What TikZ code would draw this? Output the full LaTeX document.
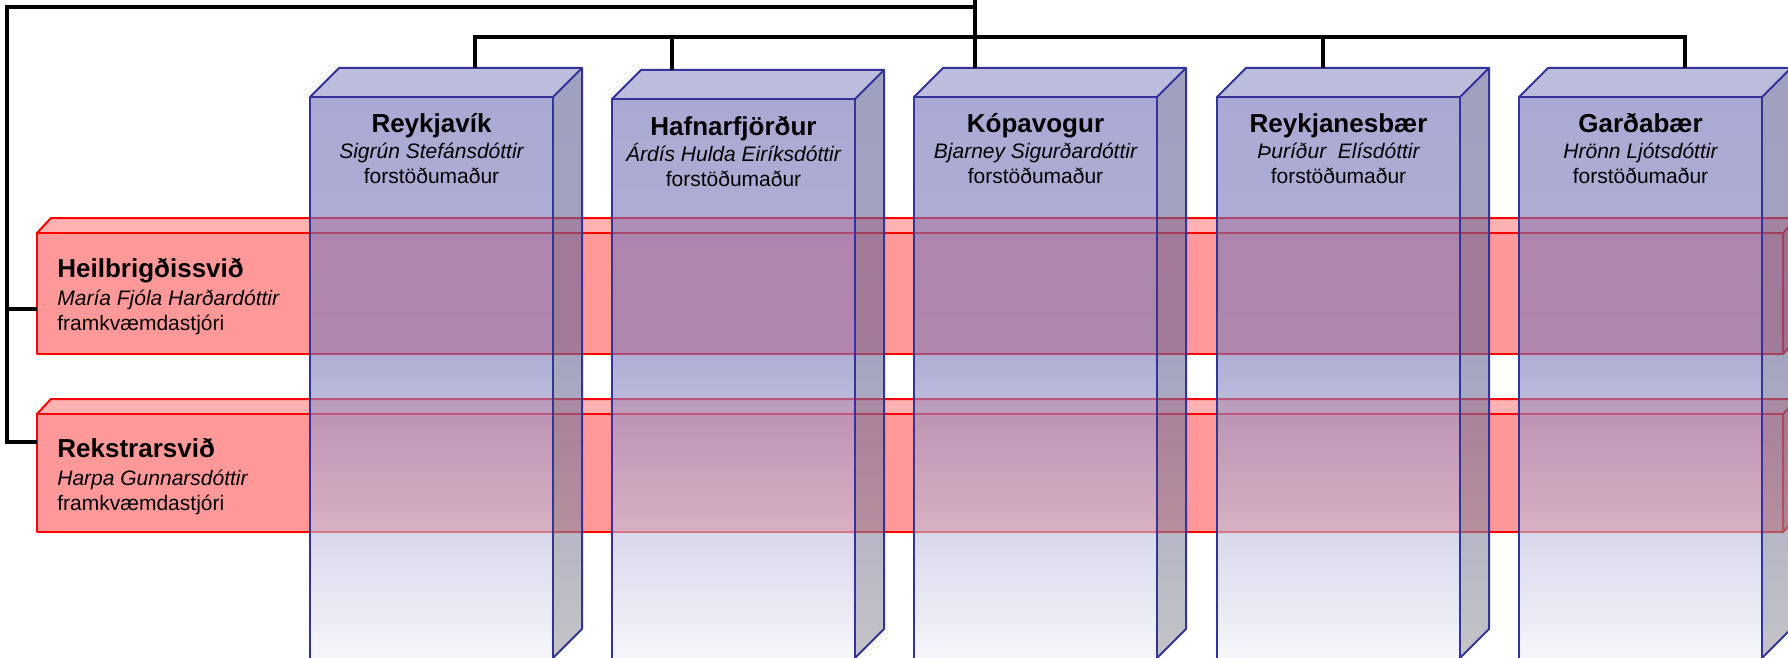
\documentclass[tikz,border=0pt]{standalone}
\usepackage{fontspec}
\setmainfont{Liberation Sans}
\usepackage{tikz}
\definecolor{unitline}{RGB}{51,51,153}
\definecolor{unittop}{RGB}{145,145,198}
\definecolor{barfront}{RGB}{255,153,153}
\definecolor{bartop}{RGB}{255,178,178}
\definecolor{barside}{RGB}{235,135,135}
\pgfdeclareverticalshading{unitfront}{100bp}{rgb(0bp)=(0.94,0.94,0.973); rgb(25bp)=(0.94,0.94,0.973);
    rgb(52bp)=(0.49,0.49,0.733); rgb(75bp)=(0.451,0.451,0.722); rgb(100bp)=(0.451,0.451,0.722)}
\pgfdeclareverticalshading{unitside}{100bp}{rgb(0bp)=(0.616,0.616,0.647); rgb(25bp)=(0.616,0.616,0.647);
    rgb(52bp)=(0.41,0.41,0.6); rgb(75bp)=(0.388,0.388,0.592); rgb(100bp)=(0.388,0.388,0.592)}
\tikzset{
    every node/.style={font=\fontsize{10.5}{12.5}\selectfont},
    link/.style={line width=2pt, black},
    barface/.style={draw=red, line width=1pt, line join=round},
    unitface/.style={fill opacity=0.61},
    unitedge/.style={draw=unitline, line width=1pt, line join=round},
    unitlabel/.style={align=center, inner sep=0pt, anchor=north},
    barlabel/.style={align=left, inner sep=0pt, anchor=north west}
}
% one transparent column: left x and top y of its front face
\newcommand{\unitcol}[2]{%
  \shade[unitface, shading=unitfront] (#1,#2) rectangle (#1+243,658);
  \shade[unitface, shading=unitside] (#1+243,#2) -- ++(29,-29) -- (#1+272,629) -- (#1+243,658) -- cycle;
  \fill[unitface, unittop] (#1,#2) -- ++(29,-29) -- ++(243,0) -- ++(-29,29) -- cycle;
  \draw[unitedge] (#1,658) -- (#1,#2) -- ++(243,0) -- (#1+243,658);
  \draw[unitedge] (#1,#2) -- ++(29,-29) -- ++(243,0) -- ++(-29,29);
  \draw[unitedge] (#1+272,#2-29) -- (#1+272,629) -- (#1+243,658);
}
\newcommand{\sviobar}[2]{% top y and bottom y of the front face
  \draw[barface, fill=bartop] (37,#1) -- ++(14,-15) -- ++(1760,0) -- ++(-14,15) -- cycle;
  \draw[barface, fill=barside] (1797,#1-15) -- (1797,#2-15) -- (1783,#2) -- (1783,#1) -- cycle;
  \draw[barface, fill=barfront] (37,#1) rectangle (1783,#2);
}

\begin{document}
\begin{tikzpicture}[x=0.5pt, y=-0.5pt]
    \clip (0,0) rectangle (1788,658);

    % divisions
    \sviobar{233}{354}
    \sviobar{414}{532}

    % centres
    \unitcol{310}{97}
    \unitcol{612}{99}
    \unitcol{914}{97}
    \unitcol{1217}{97}
    \unitcol{1519}{97}

    \node[unitlabel] (rvk) at (431.5,112) {{\fontsize{13}{13}\selectfont\bfseries\rule{0pt}{10pt}Reykjavík}\\[0.5pt]
        {\itshape Sigrún Stefánsdóttir}\\ forstöðumaður};
    \node[unitlabel] (haf) at (733.5,115) {{\fontsize{13}{13}\selectfont\bfseries\rule{0pt}{10pt}Hafnarfjörður}\\[0.5pt]
        {\itshape Árdís Hulda Eiríksdóttir}\\ forstöðumaður};
    \node[unitlabel] (kop) at (1035.5,112) {{\fontsize{13}{13}\selectfont\bfseries\rule{0pt}{10pt}Kópavogur}\\[0.5pt]
        {\itshape Bjarney Sigurðardóttir}\\ forstöðumaður};
    \node[unitlabel] (rnb) at (1338.5,112) {{\fontsize{13}{13}\selectfont\bfseries\rule{0pt}{10pt}Reykjanesbær}\\[0.5pt]
        {\itshape Þuríður\ \ Elísdóttir}\\ forstöðumaður};
    \node[unitlabel] (gbr) at (1640.5,112) {{\fontsize{13}{13}\selectfont\bfseries\rule{0pt}{10pt}Garðabær}\\[0.5pt]
        {\itshape Hrönn Ljótsdóttir}\\ forstöðumaður};

    \node[barlabel] (heil) at (57,257) {{\fontsize{13}{13}\selectfont\bfseries\rule{0pt}{10pt}Heilbrigðissvið}\\[1.5pt]
        {\itshape María Fjóla Harðardóttir}\\ framkvæmdastjóri};
    \node[barlabel] (rek) at (57,437) {{\fontsize{13}{13}\selectfont\bfseries\rule{0pt}{10pt}Rekstrarsvið}\\[1.5pt]
        {\itshape Harpa Gunnarsdóttir}\\ framkvæmdastjóri};

    % connectors
    \coordinate (top) at (975,0);
    \coordinate (corner) at (7,7);
    \coordinate (rvk in) at (475,68);
    \coordinate (haf in) at (672,70);
    \coordinate (kop in) at (975,68);
    \coordinate (rnb in) at (1323,68);
    \coordinate (gbr in) at (1685,68);
    \coordinate (heil in) at (37,309);
    \coordinate (rek in) at (37,442);

    \draw[link] (top) -- (kop in);
    \draw[link] (kop in |- corner) -- (corner) |- (rek in);
    \draw[link] (corner |- heil in) -- (heil in);
    \draw[link] (rvk in) -- ++(0,-31) -| (gbr in);
    \draw[link] (haf in) -- (haf in |- 0,37);
    \draw[link] (rnb in) -- (rnb in |- 0,37);
\end{tikzpicture}
\end{document}
